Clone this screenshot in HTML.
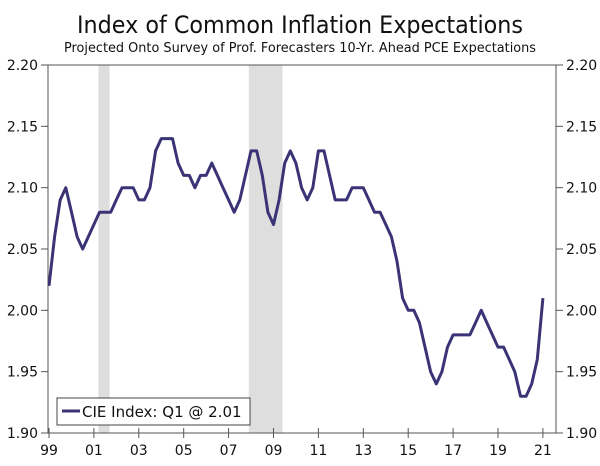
<!DOCTYPE html>
<html><head><meta charset="utf-8"><style>
html,body{margin:0;padding:0;background:#fff;}
svg text{font-family:"DejaVu Sans","Liberation Sans",sans-serif;fill:#111;}
</style></head><body>
<svg id="chart" width="600" height="461" viewBox="0 0 600 461" xmlns="http://www.w3.org/2000/svg">
<text x="300" y="33" font-size="24" text-anchor="middle" textLength="446" lengthAdjust="spacingAndGlyphs">Index of Common Inflation Expectations</text>
<text x="300" y="52" font-size="13" text-anchor="middle" textLength="472" lengthAdjust="spacingAndGlyphs">Projected Onto Survey of Prof. Forecasters 10-Yr. Ahead PCE Expectations</text>
<g id="shade"></g>
<g id="axes"></g>
<g id="series"></g>
<g>
<rect x="57" y="398" width="193" height="27" fill="#fff" stroke="#444" stroke-width="1"/>
<line x1="62" y1="411" x2="80" y2="411" stroke="#3a3375" stroke-width="3"/>
<text x="82" y="417" font-size="15">CIE Index: Q1 @ 2.01</text>
</g>
</svg>
<script>
const values=[2.02,2.06,2.09,2.10, 2.08,2.06,2.05,2.06, 2.07,2.08,2.08,2.08, 2.09,2.10,2.10,2.10,
 2.09,2.09,2.10,2.13, 2.14,2.14,2.14,2.12, 2.11,2.11,2.10,2.11, 2.11,2.12,2.11,2.10,
 2.09,2.08,2.09,2.11, 2.13,2.13,2.11,2.08, 2.07,2.09,2.12,2.13, 2.12,2.10,2.09,2.10,
 2.13,2.13,2.11,2.09, 2.09,2.09,2.10,2.10, 2.10,2.09,2.08,2.08, 2.07,2.06,2.04,2.01,
 2.00,2.00,1.99,1.97, 1.95,1.94,1.95,1.97, 1.98,1.98,1.98,1.98, 1.99,2.00,1.99,1.98,
 1.97,1.97,1.96,1.95, 1.93,1.93,1.94,1.96, 2.01];
const startYear=1999;
const yTicks=[1.90,1.95,2.00,2.05,2.10,2.15,2.20];
const xTickYears=[1999,2001,2003,2005,2007,2009,2011,2013,2015,2017,2019,2021];
const xTickLabels=["99","01","03","05","07","09","11","13","15","17","19","21"];
const recessions=[[2001.2,2001.7],[2007.9,2009.4]];

const L=48,R=556,T=65,B=433;
const x=t=>49+(t-1999)*22.45;
const y=v=>B-(v-1.90)/0.30*(B-T);
const NS="http://www.w3.org/2000/svg";
function mk(tag,attrs,parent){const e=document.createElementNS(NS,tag);for(const k in attrs)e.setAttribute(k,attrs[k]);parent.appendChild(e);return e;}
const sh=document.getElementById('shade'),ax=document.getElementById('axes'),se=document.getElementById('series');
recessions.forEach(r=>{const e=mk('rect',{x:x(r[0]),y:T,width:x(r[1])-x(r[0]),height:B-T,fill:'#dedede'},sh);

});
const frame=mk('rect',{x:L,y:T,width:R-L,height:B-T,fill:'none',stroke:'#555','stroke-width':1},ax);


yTicks.forEach(v=>{const yy=y(v);
mk('line',{x1:L-7,y1:yy,x2:L,y2:yy,stroke:'#555'},ax);
mk('line',{x1:R,y1:yy,x2:R+7,y2:yy,stroke:'#555'},ax);
const a=mk('text',{x:L-10,y:yy+5,'font-size':14,'text-anchor':'end'},ax);a.textContent=v.toFixed(2);


const b=mk('text',{x:R+10,y:yy+5,'font-size':14,'text-anchor':'start'},ax);b.textContent=v.toFixed(2);

});
xTickYears.forEach((t,i)=>{const xx=x(t);
mk('line',{x1:xx,y1:B-5,x2:xx,y2:B+5,stroke:'#555'},ax);
const a=mk('text',{x:xx,y:B+22,'font-size':14,'text-anchor':'middle'},ax);a.textContent=xTickLabels[i];

});
const pts=values.map((v,i)=>x(startYear+i/4).toFixed(1)+','+y(v).toFixed(1)).join(' ');
const line=mk('polyline',{points:pts,fill:'none',stroke:'#3a3375','stroke-width':3,'stroke-linejoin':'round'},se);


</script>
</body></html>
